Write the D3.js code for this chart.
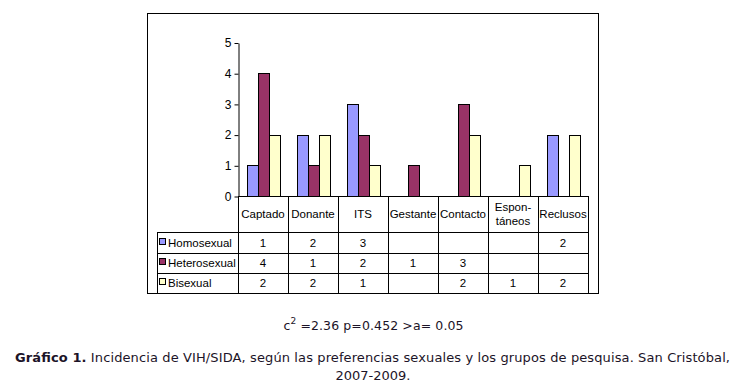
<!DOCTYPE html>
<html><head><meta charset="utf-8">
<script src="https://cdn.jsdelivr.net/npm/d3@7"></script>
<style>body{margin:0;background:#fff}svg{display:block}</style>
</head><body>
<script>
const categories = ["Captado","Donante","ITS","Gestante","Contacto","Espon-\ntáneos","Reclusos"];
const seriesNames = ["Homosexual","Heterosexual","Bisexual"];
const homosexual = [1,2,3,null,null,null,2];
const heterosexual = [4,1,2,1,3,null,null];
const bisexual = [2,2,1,null,2,1,2];
const seriesColors = ["#9999FF","#993366","#FFFFCC"];
const yTicks = [0,1,2,3,4,5];
const statText = ["c","2"," =2.36 p=0.452 >a= 0.05"];
const captionBold = "Gráfico 1.";
const captionRest = " Incidencia de VIH/SIDA, según las preferencias sexuales y los grupos de pesquisa. San Cristóbal,";
const captionLine2 = "2007-2009.";

const series = [homosexual, heterosexual, bisexual];
const W = 736, H = 386;
const svg = d3.select("body").append("svg").attr("width", W).attr("height", H);
const font = "Liberation Sans, Arial, sans-serif";
const vfont = "DejaVu Sans, Verdana, sans-serif";
const txtCol = "#1c1428";

// outer frame
svg.append("rect").attr("x",147.5).attr("y",13.5).attr("width",451).attr("height",280)
  .attr("fill","#fff").attr("stroke","#000").attr("stroke-width",1);

const x = d3.scaleBand().domain(d3.range(categories.length)).range([238, 588]).paddingInner(0).paddingOuter(0);
const xs = d3.scaleBand().domain(d3.range(series.length)).range([8.5, 41.5]);
const y = d3.scaleLinear().domain([0,5]).range([196, 42.5]);

// bars
series.forEach((vals, si) => {
  svg.append("g").selectAll("rect").data(vals.map((v,i)=>({v,i})).filter(d=>d.v!=null))
    .join("rect")
    .attr("x", d => Math.round(x(d.i) + xs(si)) + 0.5)
    .attr("width", xs.bandwidth())
    .attr("y", d => Math.round(y(d.v)) + 0.5)
    .attr("height", d => Math.round(y(0)) - Math.round(y(d.v)))
    .attr("fill", seriesColors[si]).attr("stroke","#000").attr("stroke-width",1);
});

// y axis
const yAxis = d3.axisLeft(y).tickValues(yTicks).tickSize(4).tickSizeOuter(0).tickFormat(d3.format("d"));
const gy = svg.append("g").attr("transform","translate(238.5,0.5)").call(yAxis);
gy.selectAll("text").attr("font-family",font).attr("font-size",12).attr("fill","#000").attr("x",-7);
gy.selectAll("line,path").attr("stroke","#000");

// table lines
const tbl = svg.append("g").attr("stroke","#000").attr("stroke-width",1).attr("shape-rendering","crispEdges");
const rowY = [196, 232, 253, 273, 293];
tbl.append("line").attr("x1",238).attr("x2",588).attr("y1",rowY[0]).attr("y2",rowY[0]);
for (let r=1; r<rowY.length; r++) {
  tbl.append("line").attr("x1",157).attr("x2",588).attr("y1",rowY[r]).attr("y2",rowY[r]);
}
const bounds = categories.map((c,i)=>x(i)).concat([x.range()[1]]);
bounds.forEach(b => tbl.append("line").attr("x1",b).attr("x2",b).attr("y1",rowY[0]).attr("y2",rowY[4]));
tbl.append("line").attr("x1",157).attr("x2",157).attr("y1",rowY[1]).attr("y2",rowY[4]);
tbl.append("line").attr("x1",147).attr("x2",598).attr("y1",293.5).attr("y2",293.5).attr("stroke-width",1);

// category header labels
categories.forEach((c,i) => {
  const lines = c.split("\n");
  const cx = x(i) + x.bandwidth()/2;
  const t = svg.append("text").attr("x",cx).attr("text-anchor","middle")
    .attr("font-family",font).attr("font-size",11.5).attr("fill","#000");
  if (lines.length === 1) {
    t.attr("y",218).text(c);
  } else {
    t.append("tspan").attr("x",cx).attr("y",211).text(lines[0]);
    t.append("tspan").attr("x",cx).attr("y",225).text(lines[1]);
  }
});

// table rows
series.forEach((vals, si) => {
  const top = rowY[si+1], bot = rowY[si+2];
  const cy = (top+bot)/2 + 4;
  svg.append("rect").attr("x",159.5).attr("y",Math.round(cy-9)+0.5).attr("width",6).attr("height",6)
    .attr("fill",seriesColors[si]).attr("stroke","#000");
  svg.append("text").attr("x",168).attr("y",cy).attr("font-family",font).attr("font-size",11.5)
    .attr("fill","#000").text(seriesNames[si]);
  vals.forEach((v,i) => {
    if (v==null) return;
    svg.append("text").attr("x",x(i)+x.bandwidth()/2).attr("y",cy).attr("text-anchor","middle")
      .attr("font-family",font).attr("font-size",11.5).attr("fill","#000").text(v);
  });
});

// stat line
const st = svg.append("text").attr("x",283.5).attr("y",329.5)
  .attr("font-family",vfont).attr("font-size",12.5).attr("fill",txtCol)
  .attr("textLength",180).attr("lengthAdjust","spacing");
st.append("tspan").text(statText[0]);
st.append("tspan").attr("dy",-6).attr("font-size",9).text(statText[1]);
st.append("tspan").attr("dy",6).text(statText[2]);

// caption
const cap = svg.append("text").attr("x",15).attr("y",361.5)
  .attr("font-family",vfont).attr("font-size",13).attr("fill",txtCol)
  .attr("textLength",715).attr("lengthAdjust","spacing");
cap.append("tspan").attr("font-weight","bold").text(captionBold);
cap.append("tspan").text(captionRest);
svg.append("text").attr("x",373).attr("y",379.5).attr("text-anchor","middle")
  .attr("font-family",vfont).attr("font-size",13).attr("fill",txtCol).text(captionLine2);
</script>
</body></html>
